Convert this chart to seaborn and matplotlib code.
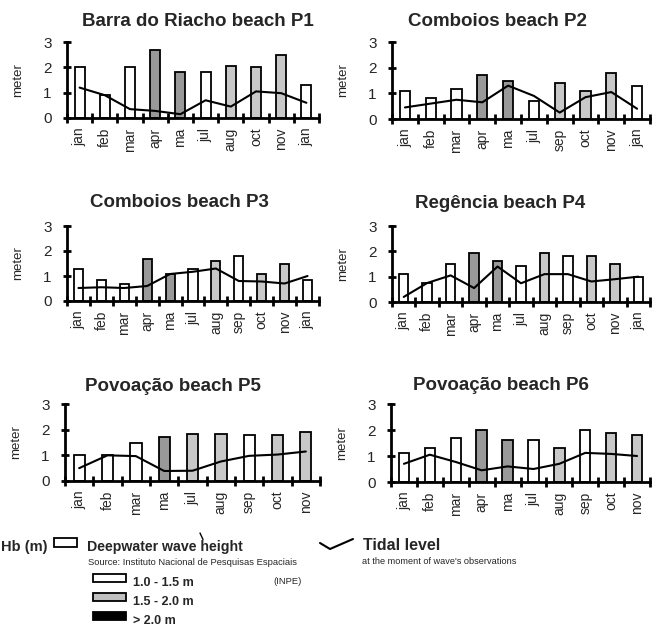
import numpy as np
import pandas as pd
import seaborn as sns
import matplotlib.pyplot as plt
from matplotlib.patches import Rectangle
from matplotlib.lines import Line2D

# ---- data ----
titles = ['Barra do Riacho beach P1', 'Comboios beach P2', 'Comboios beach P3',
          'Regência beach P4', 'Povoação beach P5', 'Povoação beach P6']

months_p1 = ['jan', 'feb', 'mar', 'apr', 'ma', 'jul', 'aug', 'oct', 'nov', 'jan']
wave_p1 = [2.0, 0.9, 2.0, 2.7, 1.8, 1.8, 2.05, 2.0, 2.5, 1.3]
class_p1 = ['w', 'w', 'w', 'd', 'd', 'w', 'l', 'l', 'l', 'w']
tide_p1 = [1.2, 0.9, 0.35, 0.28, 0.15, 0.7, 0.45, 1.05, 0.98, 0.6]

months_p2 = ['jan', 'feb', 'mar', 'apr', 'ma', 'jul', 'sep', 'oct', 'nov', 'jan']
wave_p2 = [1.1, 0.8, 1.15, 1.7, 1.5, 0.7, 1.42, 1.1, 1.8, 1.3]
class_p2 = ['w', 'w', 'w', 'd', 'd', 'w', 'l', 'l', 'l', 'w']
tide_p2 = [0.45, 0.6, 0.75, 0.65, 1.3, 0.9, 0.25, 0.85, 1.05, 0.4]

months_p3 = ['jan', 'feb', 'mar', 'apr', 'ma', 'jul', 'aug', 'sep', 'oct', 'nov', 'jan']
wave_p3 = [1.3, 0.85, 0.7, 1.7, 1.1, 1.3, 1.6, 1.8, 1.1, 1.5, 0.85]
class_p3 = ['w', 'w', 'w', 'd', 'd', 'w', 'l', 'w', 'l', 'l', 'w']
tide_p3 = [0.52, 0.55, 0.52, 0.6, 1.08, 1.17, 1.3, 0.8, 0.78, 0.7, 1.0]

months_p4 = ['jan', 'feb', 'mar', 'apr', 'ma', 'jul', 'aug', 'sep', 'oct', 'nov', 'jan']
wave_p4 = [1.1, 0.75, 1.5, 1.92, 1.6, 1.42, 1.95, 1.8, 1.8, 1.5, 1.0]
class_p4 = ['w', 'w', 'w', 'd', 'd', 'w', 'l', 'w', 'l', 'l', 'w']
tide_p4 = [0.2, 0.75, 1.05, 0.55, 1.4, 0.74, 1.1, 1.1, 0.81, 0.9, 1.0]

months_p5 = ['jan', 'feb', 'mar', 'ma', 'jul', 'aug', 'sep', 'oct', 'nov']
wave_p5 = [1.0, 1.03, 1.5, 1.7, 1.84, 1.84, 1.8, 1.8, 1.92]
class_p5 = ['w', 'w', 'w', 'd', 'l', 'l', 'w', 'l', 'l']
tide_p5 = [0.5, 1.0, 0.97, 0.39, 0.4, 0.76, 0.98, 1.03, 1.15]

months_p6 = ['jan', 'feb', 'mar', 'apr', 'ma', 'jul', 'aug', 'sep', 'oct', 'nov']
wave_p6 = [1.1, 1.3, 1.7, 2.0, 1.6, 1.6, 1.3, 2.0, 1.9, 1.8]
class_p6 = ['w', 'w', 'w', 'd', 'd', 'w', 'l', 'w', 'l', 'l']
tide_p6 = [0.7, 1.05, 0.77, 0.45, 0.6, 0.5, 0.7, 1.12, 1.08, 1.0]

panels = [
    (months_p1, wave_p1, class_p1, tide_p1),
    (months_p2, wave_p2, class_p2, tide_p2),
    (months_p3, wave_p3, class_p3, tide_p3),
    (months_p4, wave_p4, class_p4, tide_p4),
    (months_p5, wave_p5, class_p5, tide_p5),
    (months_p6, wave_p6, class_p6, tide_p6),
]

palette = {'w': 'white', 'l': '#c8c8c8', 'd': '#999999'}

sns.set_style('white')
plt.rcParams['font.family'] = ['Liberation Sans', 'DejaVu Sans']

W, H = 659, 629
fig = plt.figure(figsize=(W / 100, H / 100), dpi=100)


def fx(x):
    return x / W


def fy(y):
    return 1 - y / H


# axes boxes in pixels: left, right, top(y=3), bottom(y=0)
boxes = [(67, 319, 42, 118), (392, 650, 42, 119),
         (67, 319, 226, 301), (392, 650, 226, 302),
         (65, 320, 404, 481), (391, 650, 404, 482)]
# title centre x and baseline y, pixels
title_pos = [(198, 25.5), (497, 26.5), (179, 207), (500, 208), (173, 391), (501, 390)]

for (months, wave, cls, tide), title, (l, r, t, b), (tx, ty) in zip(
        panels, titles, boxes, title_pos):
    ax = fig.add_axes([fx(l), fy(b), fx(r - l), (b - t) / H])
    n = len(months)
    df = pd.DataFrame({'pos': np.arange(n), 'wave': wave, 'cls': cls, 'tide': tide})
    sns.barplot(data=df, x='pos', y='wave', hue='cls', palette=palette, dodge=False,
                width=0.4, edgecolor='black', linewidth=1.3, legend=False, ax=ax)
    sns.lineplot(data=df, x='pos', y='tide', color='black', linewidth=1.5, ax=ax,
                 zorder=5)
    ax.set_xlim(-0.5, n - 0.5)
    ax.set_ylim(0, 3)
    ax.set_yticks([0, 1, 2, 3])
    ax.set_xticks(np.arange(n))
    ax.set_xticklabels(months, rotation=90, fontsize=10)
    ax.set_xticks(np.arange(n + 1) - 0.5, minor=True)
    ax.tick_params(axis='x', which='major', length=0, pad=7)
    ax.tick_params(axis='x', which='minor', direction='inout', length=7, width=2,
                   color='black', bottom=True)
    ax.tick_params(axis='y', direction='inout', length=6, width=2, color='black',
                   labelsize=11, pad=8, left=True)
    ax.set_xlabel('')
    ax.set_ylabel('meter', fontsize=9.5, labelpad=14)
    fig.text(fx(tx), fy(ty), title, ha='center', va='baseline', fontsize=13.5,
             fontweight='bold')
    for side in ['top', 'right']:
        ax.spines[side].set_visible(False)
    for side in ['left', 'bottom']:
        ax.spines[side].set_linewidth(2)
        ax.spines[side].set_color('black')
    ax.set_facecolor('none')

# ---- legend block ----
fig.text(fx(1), fy(551), 'Hb (m)', ha='left', va='baseline', fontsize=10.5,
         fontweight='bold')
fig.add_artist(Rectangle((fx(54), fy(547)), fx(23), 9 / H, facecolor='white',
                         edgecolor='black', linewidth=1.3, transform=fig.transFigure))
fig.text(fx(87), fy(551), 'Deepwater wave height', va='baseline', fontsize=10.2,
         fontweight='bold')
fig.add_artist(Line2D([fx(200), fx(203)], [fy(533), fy(539.5)], color='black',
                      linewidth=1, transform=fig.transFigure))
fig.text(fx(88), fy(565), 'Source: Instituto Nacional de Pesquisas Espaciais',
         va='baseline', fontsize=6.75)
fig.text(fx(273), fy(584), '(INPE)', va='baseline', fontsize=6.75)

swatches = [('white', '1.0 - 1.5 m', 574), ('#c0c0c0', '1.5 - 2.0 m', 593),
            ('black', '> 2.0 m', 612)]
for col, lab, y in swatches:
    fig.add_artist(Rectangle((fx(93), fy(y + 8)), fx(33), 8 / H, facecolor=col,
                             edgecolor='black', linewidth=1.3,
                             transform=fig.transFigure))
    fig.text(fx(133), fy(y + 12), lab, va='baseline', fontsize=9,
             fontweight='bold')

fig.add_artist(Line2D([fx(320), fx(330), fx(353)], [fy(543), fy(549), fy(539)],
                      color='black', linewidth=1.5, transform=fig.transFigure))
fig.text(fx(363), fy(550), 'Tidal level', va='baseline', fontsize=11.5,
         fontweight='bold')
fig.text(fx(362), fy(564.5), "at the moment of wave's observations", va='baseline',
         fontsize=6.6)

fig.savefig('out.png', dpi=100)
